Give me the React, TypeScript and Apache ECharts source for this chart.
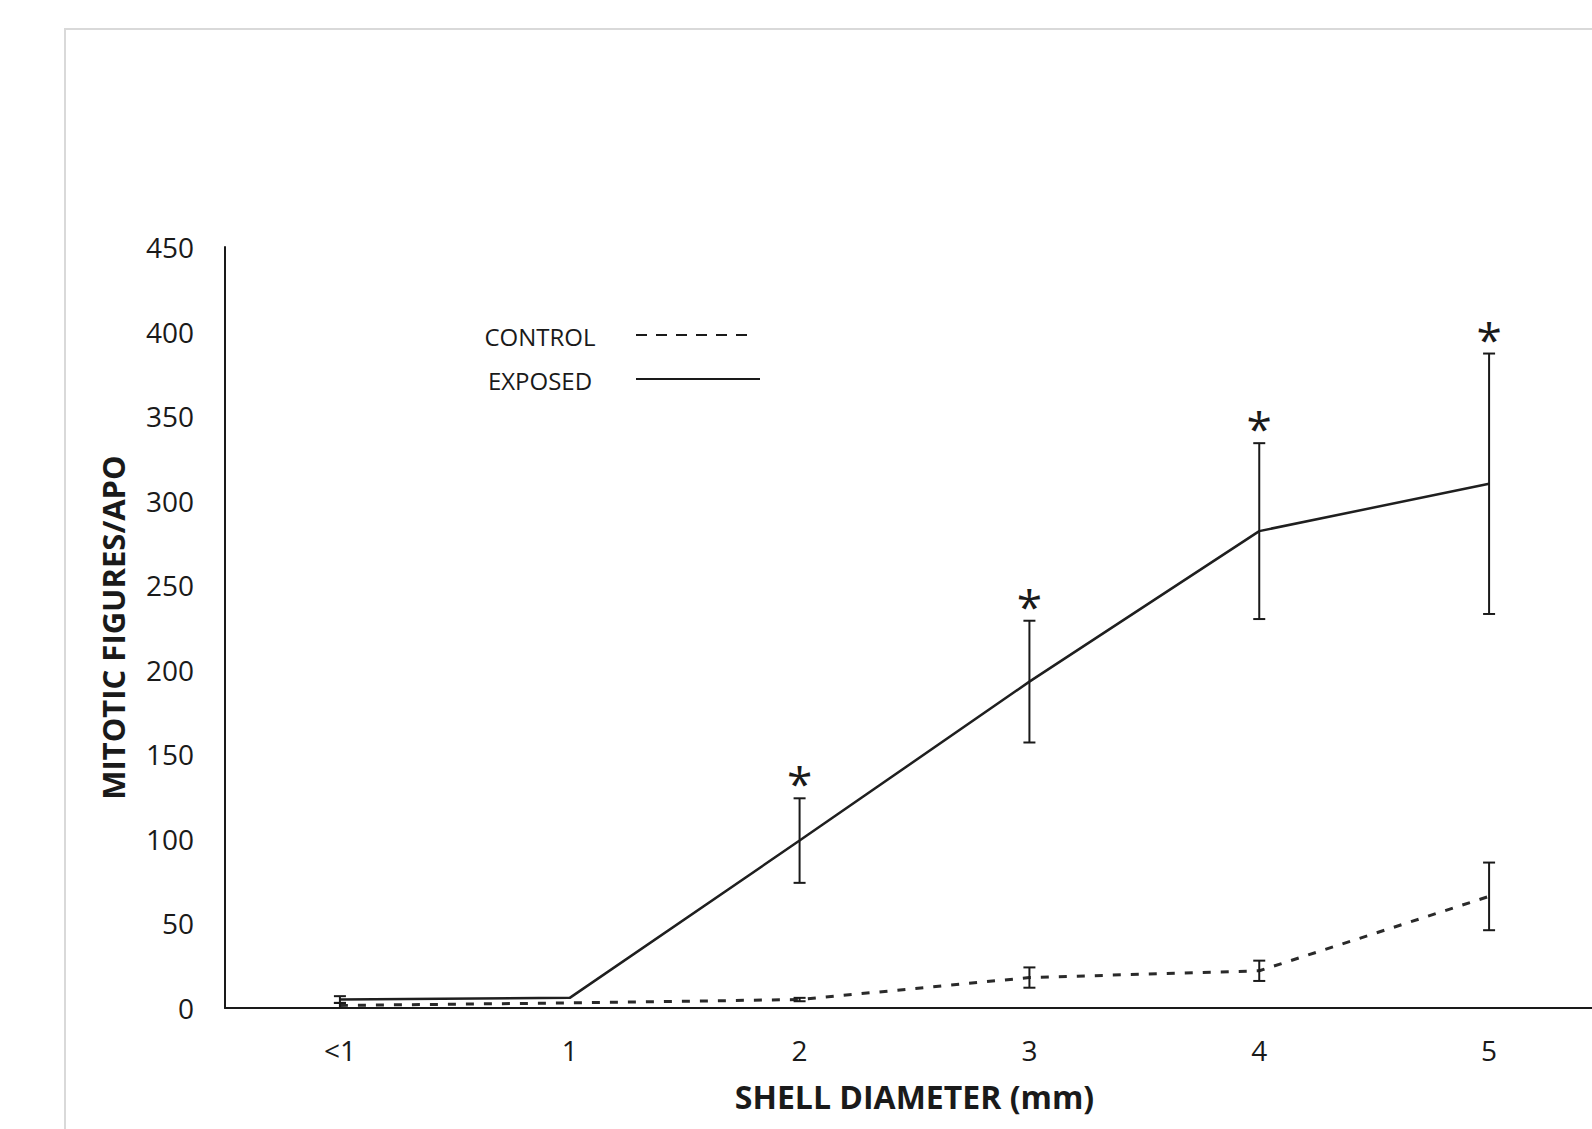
import React, { useEffect, useRef } from 'react';
import * as echarts from 'echarts';

const categories = ['<1', '1', '2', '3', '4', '5'];
const exposedMean = [5, 6, 99, 193, 282, 310];
const exposedErr = [2, 0, 25, 36, 52, 77];
const controlMean = [1.5, 3, 5, 18, 22, 66];
const controlErr = [1.5, 0, 1, 6, 6, 20];
const significant = [0, 0, 1, 1, 1, 1];
const legendNames = ['CONTROL', 'EXPOSED'];
const xTitle = 'SHELL DIAMETER (mm)';
const yTitle = 'MITOTIC FIGURES/APO';

const FONT = '"Open Sans", sans-serif';
const INK = '#1a1a1a';
const CHART_W = 1620;

function makeErrorRender(withMarks: boolean) {
  return (params: any, api: any) => {
    const i = api.value(0);
    const m = api.value(1);
    const e = api.value(2);
    const sig = api.value(3);
    const top = api.coord([i, m + e]);
    const bot = api.coord([i, m - e]);
    const hw = 6;
    const st = { stroke: INK, lineWidth: 2 };
    const children: any[] = [];
    if (e > 0) {
      children.push({ type: 'line', shape: { x1: top[0], y1: top[1], x2: bot[0], y2: bot[1] }, style: st });
      children.push({ type: 'line', shape: { x1: top[0] - hw, y1: top[1], x2: top[0] + hw, y2: top[1] }, style: st });
      children.push({ type: 'line', shape: { x1: bot[0] - hw, y1: bot[1], x2: bot[0] + hw, y2: bot[1] }, style: st });
    }
    if (withMarks && sig) {
      children.push({
        type: 'text',
        x: top[0],
        y: top[1] + 8,
        style: {
          text: '*',
          fontFamily: FONT,
          fontSize: 46,
          fill: INK,
          align: 'center',
          verticalAlign: 'bottom',
        },
      });
    }
    return { type: 'group', children };
  };
}

export default function App() {
  const ref = useRef<HTMLDivElement>(null);
  useEffect(() => {
    if (!ref.current) return;
    const chart = echarts.init(ref.current, undefined, { renderer: 'svg' });
    const exposedErrData = categories.map((_, i) => [i, exposedMean[i], exposedErr[i], significant[i]]);
    const controlErrData = categories.map((_, i) => [i, controlMean[i], controlErr[i], 0]);
    chart.setOption({
      animation: false,
      backgroundColor: '#ffffff',
      grid: { left: 225, top: 247, bottom: 121, right: 16, containLabel: false },
      xAxis: {
        type: 'category',
        data: categories,
        boundaryGap: true,
        axisLine: { lineStyle: { color: INK, width: 2 } },
        axisTick: { show: false },
        axisLabel: { color: INK, fontFamily: FONT, fontSize: 28, margin: 28 },
        splitLine: { show: false },
        name: xTitle,
        nameLocation: 'middle',
        nameGap: 72,
        nameTextStyle: { color: INK, fontFamily: FONT, fontSize: 32, fontWeight: 'bold' },
      },
      yAxis: {
        type: 'value',
        min: 0,
        max: 450,
        interval: 50,
        axisLine: { show: true, lineStyle: { color: INK, width: 2 } },
        axisTick: { show: false },
        splitLine: { show: false },
        axisLabel: { color: INK, fontFamily: FONT, fontSize: 28, margin: 31 },
        name: yTitle,
        nameLocation: 'middle',
        nameRotate: 90,
        nameGap: 97,
        nameTextStyle: { color: INK, fontFamily: FONT, fontSize: 31, fontWeight: 'bold' },
      },
      graphic: [
        {
          type: 'rect',
          z: -10,
          silent: true,
          shape: { x: 65, y: 29, width: 3000, height: 3000 },
          style: { fill: 'none', stroke: '#d9d9d9', lineWidth: 2 },
        },
        {
          type: 'text',
          x: 540,
          y: 336,
          style: { text: legendNames[0], fontFamily: FONT, fontSize: 24, fill: INK, align: 'center', verticalAlign: 'middle' },
        },
        {
          type: 'line',
          shape: { x1: 636, y1: 335, x2: 752, y2: 335 },
          style: { stroke: INK, lineWidth: 2, lineDash: [11, 9] },
        },
        {
          type: 'text',
          x: 540,
          y: 380,
          style: { text: legendNames[1], fontFamily: FONT, fontSize: 24, fill: INK, align: 'center', verticalAlign: 'middle' },
        },
        {
          type: 'line',
          shape: { x1: 636, y1: 379, x2: 760, y2: 379 },
          style: { stroke: INK, lineWidth: 2 },
        },
      ],
      series: [
        {
          name: legendNames[0],
          type: 'line',
          data: controlMean,
          symbol: 'none',
          lineStyle: { color: '#2a2a2a', width: 3, type: [8, 10] },
          z: 2,
        },
        {
          name: legendNames[1],
          type: 'line',
          data: exposedMean,
          symbol: 'none',
          lineStyle: { color: '#1f1f1f', width: 2.5 },
          z: 2,
        },
        {
          type: 'custom',
          data: controlErrData,
          renderItem: makeErrorRender(false),
          z: 3,
          clip: false,
        },
        {
          type: 'custom',
          data: exposedErrData,
          renderItem: makeErrorRender(true),
          z: 3,
          clip: false,
        },
      ],
    });
    return () => chart.dispose();
  }, []);
  return (
    <div
      style={{ position: 'fixed', left: 0, top: 0, width: 1592, height: 1129, overflow: 'hidden', background: '#fff' }}
    >
      <div ref={ref} style={{ width: CHART_W, height: 1129 }} />
    </div>
  );
}
